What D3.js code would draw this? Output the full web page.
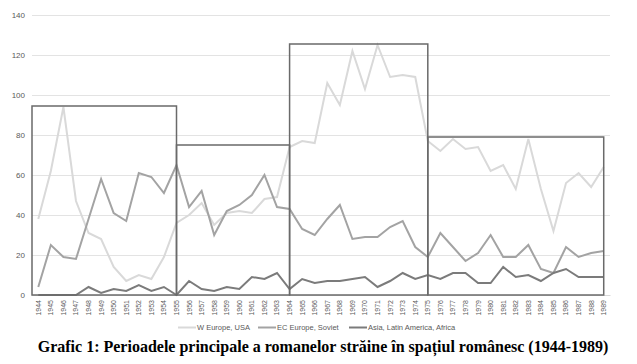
<!DOCTYPE html>
<html><head><meta charset="utf-8">
<script src="https://cdn.jsdelivr.net/npm/d3@7"></script>
<style>body{margin:0;background:#fff}svg{display:block}</style>
</head><body>
<svg id="c" width="637" height="364"></svg>
<script>
const years = ["1944","1945","1946","1947","1948","1949","1950","1951","1952","1953","1954","1955","1956","1957","1958","1959","1960","1961","1962","1963","1964","1965","1966","1967","1968","1969","1970","1971","1972","1973","1974","1975","1976","1977","1978","1979","1980","1981","1982","1983","1984","1985","1986","1987","1988","1989"];
const westEurope = [38,62,94,47,31,28,14,7,10,8,19,36,40,46,35,41,42,41,48,49,74,77,76,106,95,122,103,125,109,110,109,77,72,78,73,74,62,65,53,78,53,32,56,61,54,64];
const ecEurope = [4,25,19,18,38,58,41,37,61,59,51,65,44,52,30,42,45,50,60,44,43,33,30,38,45,28,29,29,34,37,24,19,31,24,17,21,30,19,19,25,13,11,24,19,21,22];
const asiaLatAfr = [0,0,0,0,4,1,3,2,5,2,4,0,7,3,2,4,3,9,8,11,3,8,6,7,7,8,9,4,7,11,8,10,8,11,11,6,6,14,9,10,7,11,13,9,9,9];
const seriesNames = ["W Europe, USA","EC Europe, Soviet","Asia, Latin America, Africa"];
const periodStart = ["1944","1955","1964","1975"];
const periodEnd = ["1955","1964","1975","1989"];
const periodTop = [94.5,75,125.5,79];
const yTicks = [0,20,40,60,80,100,120,140];
const title = "Grafic 1: Perioadele principale a romanelor străine în spațiul românesc (1944-1989)";

const colors = ["#d9d9d9","#a3a3a3","#7b7b7b"];
const svg = d3.select("#c");
const x = d3.scaleBand().domain(years).range([32,610]).padding(0);
const bw = x.bandwidth();
const cx = d => x(d) + bw/2;
const y = d3.scaleLinear().domain([0,140]).range([295,15]);

// y axis gridlines + labels
const yAxis = d3.axisLeft(y).tickValues(yTicks).tickSize(-578).tickPadding(7);
const gy = svg.append("g").attr("transform","translate(32,0)").call(yAxis);
gy.select(".domain").remove();
gy.selectAll(".tick line").attr("stroke","#e3e3e3").attr("stroke-width",1);
gy.selectAll(".tick text").attr("fill","#595959").style("font-family","Liberation Sans, Arial, sans-serif").style("font-size","8px");

// x axis labels
const xAxis = d3.axisBottom(x).tickSize(0).tickPadding(0);
const gx = svg.append("g").attr("transform","translate(0,295)").call(xAxis);
gx.select(".domain").attr("stroke","#d9d9d9");
gx.selectAll(".tick text")
  .attr("transform","translate(0,5) rotate(-90)")
  .attr("text-anchor","end").attr("dy","0.35em").attr("x",0).attr("y",0)
  .attr("fill","#595959").style("font-family","Liberation Sans, Arial, sans-serif").style("font-size","7px");

// lines
const allSeries = [westEurope, ecEurope, asiaLatAfr];
const line = d3.line().x((d,i)=>cx(years[i])).y(d=>y(d));
allSeries.forEach((s,k)=>{
  svg.append("path").datum(s).attr("d",line).attr("fill","none")
    .attr("stroke",colors[k]).attr("stroke-width",2).attr("stroke-linejoin","miter");
});

// period boxes
periodStart.forEach((s,i)=>{
  const x0 = i===0 ? x(s) : cx(s);
  const x1 = cx(periodEnd[i]);
  svg.append("rect").attr("x",x0).attr("y",y(periodTop[i])).attr("width",x1-x0).attr("height",y(0)-y(periodTop[i]))
    .attr("fill","none").attr("stroke","#6a6a6a").attr("stroke-width",1.5);
});

// legend
const legX = [178,258,349];
const lg = svg.append("g").attr("transform","translate(0,327.5)");
seriesNames.forEach((n,k)=>{
  lg.append("line").attr("x1",legX[k]).attr("x2",legX[k]+18).attr("y1",0).attr("y2",0).attr("stroke",colors[k]).attr("stroke-width",2);
  lg.append("text").attr("x",legX[k]+19).attr("y",0).attr("dy","0.35em").text(n)
    .attr("fill","#595959").style("font-family","Liberation Sans, Arial, sans-serif").style("font-size","7.5px");
});

// title
svg.append("text").attr("x",323).attr("y",352).attr("text-anchor","middle").text(title)
  .style("font-family","Liberation Serif, Times New Roman, serif").style("font-weight","bold").style("font-size","16px").attr("fill","#000");
</script>
</body></html>
